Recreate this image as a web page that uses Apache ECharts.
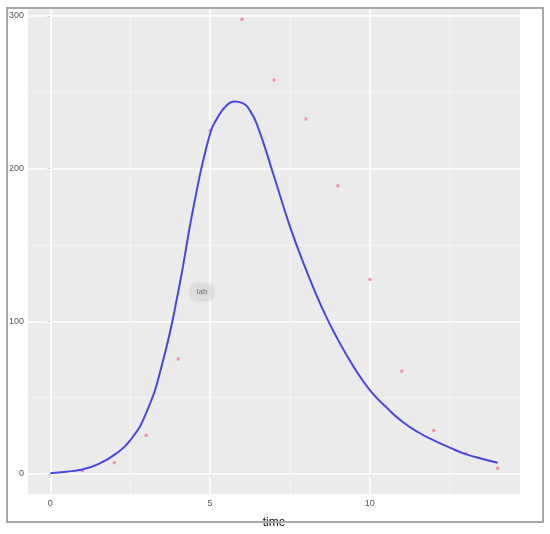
<!DOCTYPE html>
<html>
<head>
<meta charset="utf-8">
<script src="https://cdn.jsdelivr.net/npm/echarts@6/dist/echarts.min.js"></script>
<style>
  html, body { margin: 0; padding: 0; background: #fff; }
  #chart { width: 550px; height: 534px; }
</style>
</head>
<body>
<div id="chart"></div>
<script>
// observed points
const obsTime = [1, 2, 3, 4, 5, 6, 7, 8, 9, 10, 11, 12, 13, 14];
const obsValue = [2.2, 7.3, 25.4, 75.3, 225, 297.8, 258, 232.5, 188.7, 127.4, 67.5, 28.5, 13.5, 3.7];

// fitted curve (finer around the peak)
const fitTime = [0, 0.5, 1, 1.5, 2, 2.5, 3, 3.5, 4, 4.5, 5, 5.25, 5.5, 5.75, 6, 6.25, 6.5, 7, 7.5, 8, 8.5, 9, 9.5, 10, 10.5, 11, 11.5, 12, 12.5, 13, 13.5, 14];
const fitValue = [0.5, 1.5, 3, 6.5, 12.5, 22, 40, 72, 119, 177, 223, 234, 241, 244, 243, 238, 227, 195, 162, 134, 109, 88, 70, 55, 44, 34.5, 27.5, 22, 17.3, 13, 10, 7.4];

// annotation
const labText = 'lab';
const labPos = [4.75, 119];

// axes
const xTicks = [0, 5, 10];
const xMinor = [2.5, 7.5, 12.5];
const yTicks = [0, 100, 200, 300];
const yMinor = [50, 150, 250];

const chart = echarts.init(document.getElementById('chart'));

const pairs = (xs, ys) => xs.map((x, i) => [x, ys[i]]);

const major = { color: '#ffffff', width: 1.6, type: 'solid' };
const minor = { color: '#f5f5f5', width: 0.9, type: 'solid' };
const gridLines = [].concat(
  yTicks.map(v => ({ yAxis: v, lineStyle: major })),
  yMinor.map(v => ({ yAxis: v, lineStyle: minor })),
  xTicks.map(v => ({ xAxis: v, lineStyle: major })),
  xMinor.map(v => ({ xAxis: v, lineStyle: minor }))
);

const option = {
  animation: false,
  backgroundColor: '#ffffff',
  graphic: [{
    type: 'rect',
    shape: { x: 7, y: 8, width: 536, height: 514 },
    style: { fill: 'none', stroke: '#a8a8a8', lineWidth: 2 },
    z: 100
  }],
  grid: {
    left: 28, right: 30, top: 9.5, bottom: 40,
    show: true,
    backgroundColor: '#ebebeb',
    borderWidth: 0
  },
  xAxis: {
    type: 'value',
    min: -0.7, max: 14.7,
    name: 'time',
    nameLocation: 'middle',
    nameGap: 23,
    nameTextStyle: { color: '#111', fontSize: 12, fontFamily: 'Liberation Sans' },
    axisLine: { show: false },
    axisTick: { show: true, customValues: xTicks, length: 3, lineStyle: { color: '#444' } },
    axisLabel: { customValues: xTicks, color: '#555', fontSize: 9, margin: 5, fontFamily: 'Liberation Sans' },
    splitLine: { show: false }
  },
  yAxis: {
    type: 'value',
    min: -13.1, max: 304.2,
    axisLine: { show: false },
    axisTick: { show: true, customValues: yTicks, length: 3, lineStyle: { color: '#444' } },
    axisLabel: { customValues: yTicks, color: '#555', fontSize: 9, margin: 4, fontFamily: 'Liberation Sans' },
    splitLine: { show: false }
  },
  series: [
    {
      type: 'line',
      data: [],
      silent: true,
      markLine: {
        silent: true,
        symbol: 'none',
        label: { show: false },
        z: 1,
        data: gridLines
      }
    },
    {
      type: 'scatter',
      data: pairs(obsTime, obsValue),
      symbol: 'circle',
      symbolSize: 3.5,
      itemStyle: { color: '#f48c95', opacity: 0.9 },
      z: 3
    },
    {
      type: 'line',
      data: pairs(fitTime, fitValue),
      smooth: 0.5,
      showSymbol: false,
      lineStyle: { color: '#4b46e2', width: 2 },
      z: 4
    },
    {
      type: 'scatter',
      data: [labPos],
      symbolSize: 0,
      z: 5,
      label: {
        show: true,
        position: 'inside',
        formatter: labText,
        color: '#555',
        fontSize: 8,
        fontFamily: 'Liberation Sans',
        backgroundColor: '#e2e2e2',
        borderRadius: 3,
        padding: [3, 5],
        shadowBlur: 4,
        shadowColor: 'rgba(0,0,0,0.25)'
      }
    }
  ]
};

chart.setOption(option);
</script>
</body>
</html>
